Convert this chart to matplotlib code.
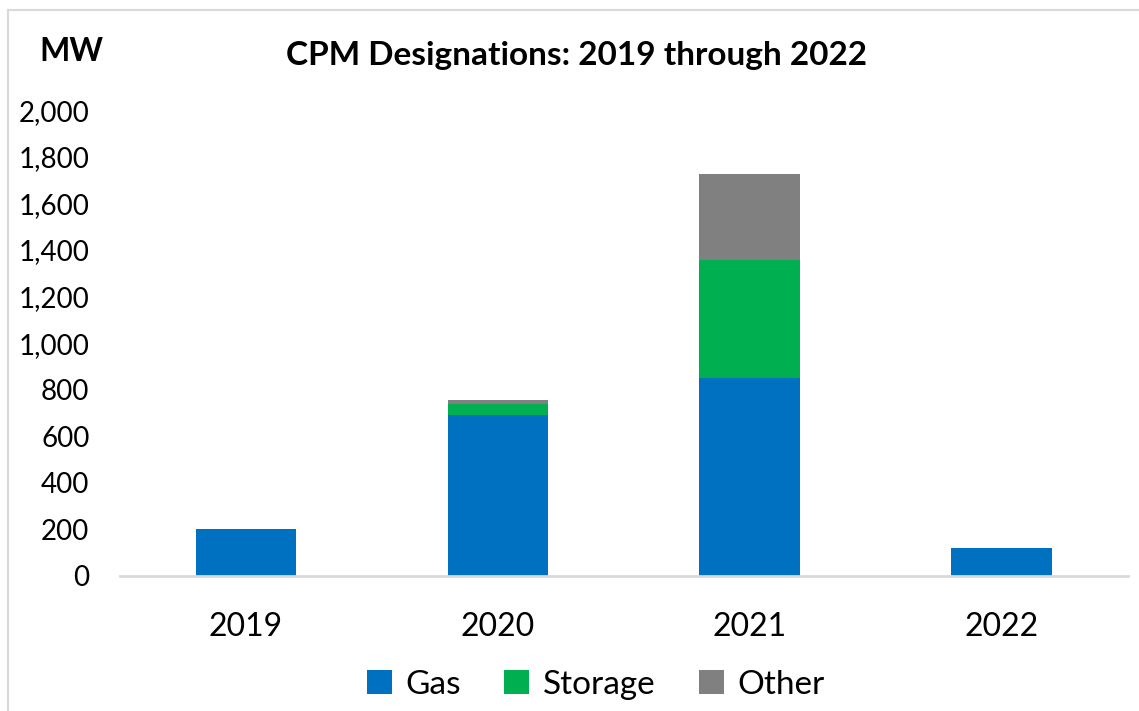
import numpy as np
import matplotlib.pyplot as plt
from matplotlib.lines import Line2D

# CPM designations by year and resource type (MW)
years = ["2019", "2020", "2021", "2022"]
gas = [200, 690, 850, 120]
storage = [0, 48, 507, 0]
other = [0, 17, 371, 0]

colors = {"Gas": "#0070C0", "Storage": "#00B050", "Other": "#808080"}

plt.rcParams["font.family"] = ["Lato", "DejaVu Sans"]

fig = plt.figure(figsize=(11.39, 7.11), dpi=100)
ax = fig.add_axes([0.1054, 0.190, 0.8846, 0.655])

x = np.arange(len(years))
gas = np.array(gas)
storage = np.array(storage)
other = np.array(other)

ax.bar(x, gas, width=0.4, color=colors["Gas"], label="Gas")
ax.bar(x, storage, width=0.4, bottom=gas, color=colors["Storage"], label="Storage")
ax.bar(x, other, width=0.4, bottom=gas + storage, color=colors["Other"], label="Other")

ax.set_xlim(-0.5, 3.5)
ax.set_ylim(0, 2000)
ax.set_yticks(np.arange(0, 2001, 200))
ax.set_yticklabels([f"{v:,}" for v in range(0, 2001, 200)])
ax.set_xticks(x)
ax.set_xticklabels(years)

for side in ["top", "right", "left"]:
    ax.spines[side].set_visible(False)
ax.spines["bottom"].set_color("#D9D9D9")
ax.spines["bottom"].set_linewidth(2)
ax.tick_params(axis="both", length=0)
ax.tick_params(axis="y", labelsize=20, pad=22)
ax.tick_params(axis="x", labelsize=23, pad=26)

fig.text(0.506, 0.922, "CPM Designations: 2019 through 2022", ha="center", va="center",
         fontsize=24, fontweight="bold")
fig.text(0.063, 0.927, "MW", ha="center", va="center", fontsize=23, fontweight="bold")

leg = fig.legend(loc="center", bbox_to_anchor=(0.523, 0.037), ncol=3, frameon=False,
                 fontsize=24, handlelength=0.75, handleheight=0.75, handletextpad=0.4,
                 columnspacing=1.3)

# light chart-area border (top and left edges visible)
fig.add_artist(Line2D([0.007, 1.0], [0.986, 0.986], color="#D9D9D9", lw=1.5))
fig.add_artist(Line2D([0.007, 0.007], [0.0, 0.986], color="#D9D9D9", lw=1.5))

fig.savefig("out.png", dpi=100)
